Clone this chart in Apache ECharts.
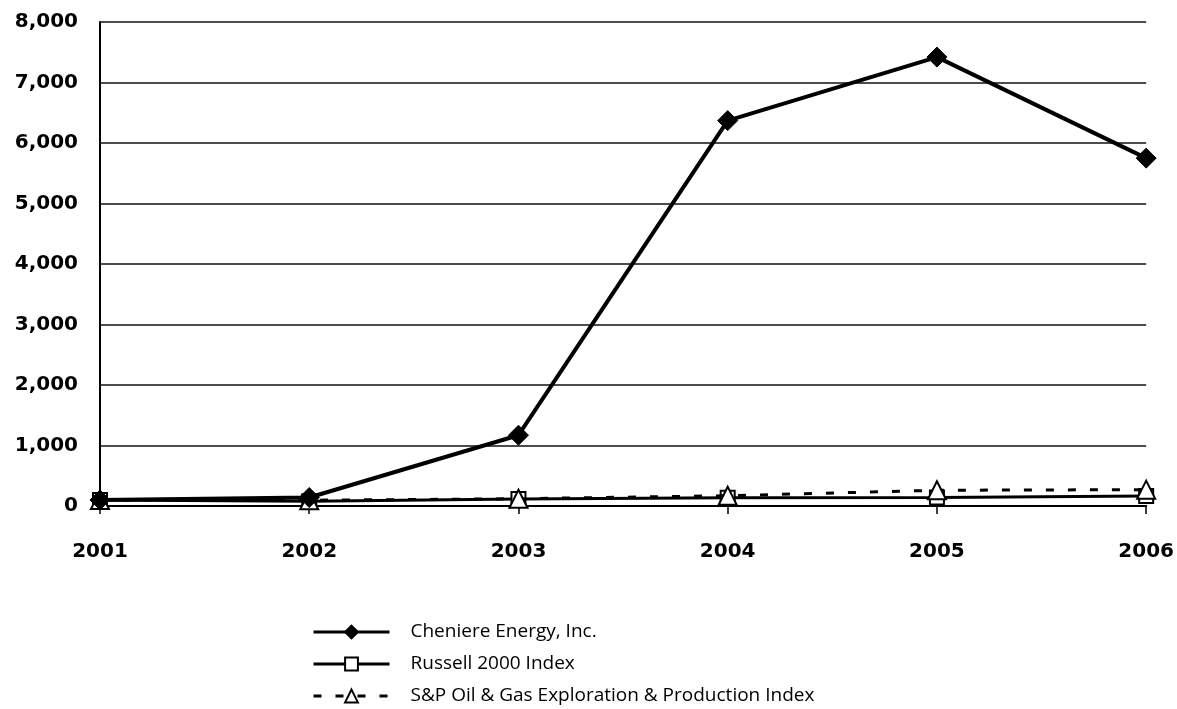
<!DOCTYPE html>
<html>
<head>
<meta charset="utf-8">
<script src="https://cdn.jsdelivr.net/npm/echarts@6/dist/echarts.min.js"></script>
<style>html,body{margin:0;padding:0;background:#fff;}#c{width:1177px;height:709px;}</style>
</head>
<body>
<div id="c"></div>
<script>
const years = ['2001', '2002', '2003', '2004', '2005', '2006'];
const cheniere = [100, 140, 1170, 6370, 7420, 5750];
const russell = [100, 80, 115, 135, 140, 165];
const spOilGas = [100, 95, 120, 170, 260, 270];
const yTicks = { min: 0, max: 8000, interval: 1000 };

const chart = echarts.init(document.getElementById('c'));
chart.setOption({
  animation: false,
  backgroundColor: '#ffffff',
  grid: { left: 100, right: 29, top: 22, bottom: 203, containLabel: false },
  xAxis: {
    type: 'category',
    data: years,
    boundaryGap: false,
    axisLine: { lineStyle: { color: '#000', width: 2 } },
    axisTick: { show: true, alignWithLabel: true, length: 8, lineStyle: { color: '#000', width: 1.5 } },
    axisLabel: { color: '#000', fontSize: 20, fontWeight: 'bold', fontFamily: 'DejaVu Sans', margin: 36 },
    splitLine: { show: false }
  },
  yAxis: {
    type: 'value',
    min: yTicks.min, max: yTicks.max, interval: yTicks.interval,
    axisLine: { show: true, lineStyle: { color: '#000', width: 2 } },
    axisTick: { show: false },
    axisLabel: {
      color: '#000', fontSize: 20, fontWeight: 'bold', fontFamily: 'DejaVu Sans', margin: 22,
      formatter: v => v.toLocaleString('en-US')
    },
    splitLine: { show: true, lineStyle: { color: '#111', width: 1.5 } }
  },
  legend: {
    orient: 'vertical',
    left: 312,
    top: 621,
    padding: 0,
    itemWidth: 76,
    itemHeight: 16,
    itemGap: 10,
    textStyle: { color: '#000', fontSize: 19, lineHeight: 22, fontFamily: 'Open Sans', padding: [0, 0, 0, 16] },
    data: [
      { name: 'Cheniere Energy, Inc.', lineStyle: { width: 3 } },
      { name: 'Russell 2000 Index', lineStyle: { width: 3 } },
      { name: 'S&P Oil & Gas Exploration & Production Index', lineStyle: { width: 3 } }
    ]
  },
  series: [
    {
      name: 'Russell 2000 Index',
      type: 'line',
      data: russell,
      symbol: 'rect',
      symbolSize: 14,
      lineStyle: { color: '#000', width: 3 },
      itemStyle: { color: '#fff', borderColor: '#000', borderWidth: 2 },
      z: 3
    },
    {
      name: 'S&P Oil & Gas Exploration & Production Index',
      type: 'line',
      data: spOilGas,
      symbol: 'triangle',
      symbolSize: 18,
      lineStyle: { color: '#000', width: 3, type: [8, 14] },
      itemStyle: { color: '#fff', borderColor: '#000', borderWidth: 2 },
      z: 4
    },
    {
      name: 'Cheniere Energy, Inc.',
      type: 'line',
      data: cheniere,
      symbol: 'diamond',
      symbolSize: 20,
      lineStyle: { color: '#000', width: 4 },
      itemStyle: { color: '#000', borderColor: '#000', borderWidth: 1 },
      z: 5
    }
  ]
});
</script>
</body>
</html>
